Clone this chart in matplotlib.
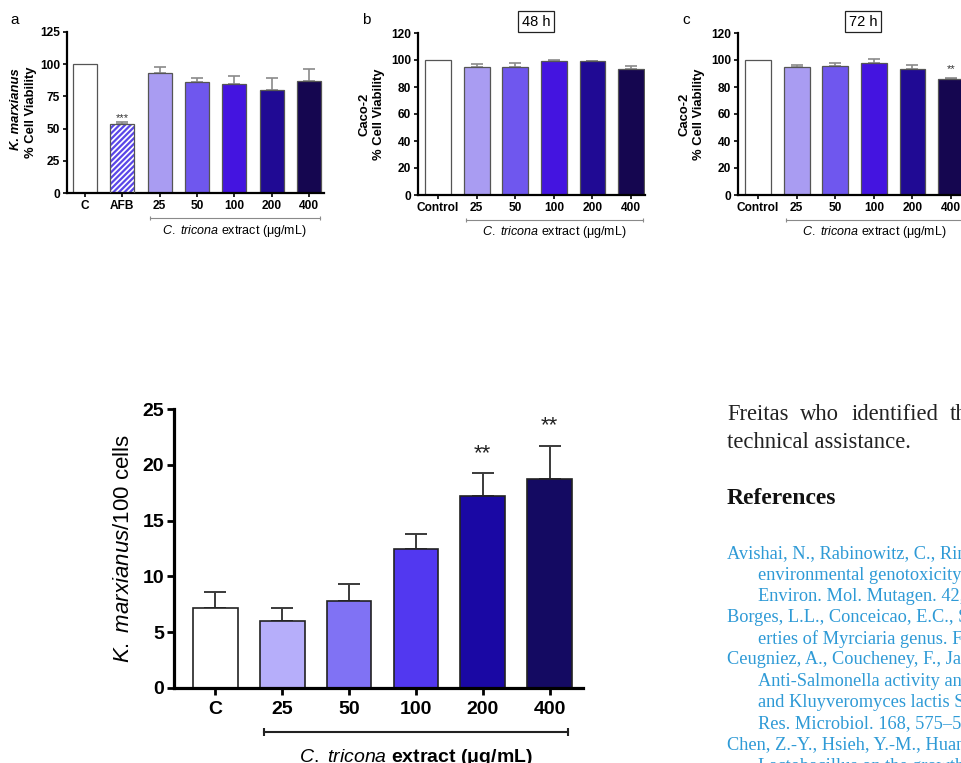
"""Figure composite : viabilite K. marxianus / Caco-2 + adhesion, avec la page autour."""
import matplotlib
matplotlib.use("Agg")
import matplotlib.pyplot as plt
import numpy as np

plt.rcParams["font.family"] = ["Liberation Sans", "DejaVu Sans"]
plt.rcParams["mathtext.fontset"] = "custom"
plt.rcParams["mathtext.rm"] = "Liberation Sans"
plt.rcParams["mathtext.it"] = "Liberation Sans:italic"
plt.rcParams["mathtext.bf"] = "Liberation Sans:bold"
plt.rcParams["hatch.linewidth"] = 1.6

# --- donnees ---
a_labels = ["C", "AFB", "25", "50", "100", "200", "400"]
a_means = [100, 53.5, 93.5, 86.5, 85, 80, 87]
a_err = [0, 1.5, 4.5, 2.5, 6, 9, 9.5]
a_colors = ["white", "white", "#a99cf2", "#6f57ee", "#4414e0", "#200a94", "#150650"]

b_labels = ["Control", "25", "50", "100", "200", "400"]
b_means = [100, 95, 94.5, 99, 99, 93]
b_err = [0, 2, 3, 1, 0.5, 2.5]

c_labels = ["Control", "25", "50", "100", "200", "400"]
c_means = [100, 94.5, 95.5, 97.5, 93.5, 86]
c_err = [0, 2, 2, 3, 3, 0.5]
bc_colors = ["white", "#a99cf2", "#6f57ee", "#4414e0", "#200a94", "#150650"]

d_labels = ["C", "25", "50", "100", "200", "400"]
d_means = [7.2, 6.0, 7.8, 12.5, 17.2, 18.7]
d_err = [1.4, 1.2, 1.55, 1.3, 2.05, 3.0]
d_colors = ["white", "#b6aefa", "#8072f4", "#5238f0", "#1a08a4", "#140a62"]

W, H = 962, 763
fig = plt.figure(figsize=(W / 100, H / 100), dpi=100)


def px_axes(left, top, right, bottom):
    return fig.add_axes([left / W, 1 - bottom / H, (right - left) / W, (bottom - top) / H])


def bracket(ax, x0, x1, y, color, lw, ms):
    ax.plot([x0, x1], [y, y], color=color, lw=lw, marker="|", markersize=ms,
            markeredgewidth=lw, transform=ax.get_xaxis_transform(), clip_on=False)


def small_panel(ax, labels, means, err, colors, ymax, ystep, width):
    x = np.arange(len(labels))
    for xi, m, c in zip(x, means, colors):
        if labels[xi] == "AFB":
            ax.bar(xi, m, width, color="white", edgecolor="#5a46e8", hatch="//////", lw=0, zorder=2)
            ax.bar(xi, m, width, fill=False, edgecolor="#555555", lw=0.9, zorder=3)
        else:
            ax.bar(xi, m, width, color=c, edgecolor="#555555", lw=0.9, zorder=2)
    e = np.array(err)
    msk = e > 0
    ax.errorbar(x[msk], np.array(means)[msk], yerr=[np.zeros(msk.sum()), e[msk]], fmt="none",
                ecolor="#8a8a8a", elinewidth=1.2, capsize=4.5, capthick=1.2, zorder=1)
    ax.set_ylim(0, ymax)
    ax.set_yticks(np.arange(0, ymax + 1, ystep))
    ax.set_xticks(x)
    ax.set_xticklabels(labels)
    for s in ("top", "right"):
        ax.spines[s].set_visible(False)
    for s in ("left", "bottom"):
        ax.spines[s].set_linewidth(1.6)
    ax.tick_params(width=1.2, length=3, labelsize=8.6, pad=2)
    for t in ax.get_xticklabels() + ax.get_yticklabels():
        t.set_fontweight("bold")
    return x


xl_small = r"$\mathit{C.}$ $\mathit{tricona}$ extract (μg/mL)"

# --- panneau a ---
axa = px_axes(67, 32, 324, 193)
small_panel(axa, a_labels, a_means, a_err, a_colors, 125, 25, 0.64)
axa.set_xlim(-0.48, 6.4)
axa.text(1, 58.5, "***", ha="center", va="center", fontsize=8, color="#333333")
bracket(axa, 1.75, 6.3, -0.155, "#8a8a8a", 0.8, 3)
axa.text(4.0, -0.235, xl_small, transform=axa.get_xaxis_transform(), ha="center", va="center", fontsize=9)
axa.text(-0.2, 0.52, "K. marxianus", transform=axa.transAxes, rotation=90, ha="center", va="center",
         fontsize=9.4, fontweight="bold", fontstyle="italic")
axa.text(-0.142, 0.5, "% Cell Viability", transform=axa.transAxes, rotation=90, ha="center", va="center",
         fontsize=9.4, fontweight="bold")
fig.text(10 / W, 1 - 20 / H, "a", fontsize=11, ha="left", va="center")

# --- panneaux b et c ---
for left, means, err, labels, letter, box in [(418, b_means, b_err, b_labels, "b", "48 h"),
                                              (738, c_means, c_err, c_labels, "c", "72 h")]:
    ax = px_axes(left, 33, left + 227, 195)
    small_panel(ax, labels, means, err, bc_colors, 120, 20, 0.67)
    ax.set_xlim(-0.52, 5.36)
    bracket(ax, 0.72, 5.3, -0.155, "#8a8a8a", 0.8, 3)
    ax.text(3.0, -0.228, xl_small, transform=ax.get_xaxis_transform(), ha="center", va="center", fontsize=9)
    ax.text(-0.235, 0.5, "Caco-2", transform=ax.transAxes, rotation=90, ha="center", va="center",
            fontsize=9.4, fontweight="bold")
    ax.text(-0.17, 0.5, "% Cell Viability", transform=ax.transAxes, rotation=90, ha="center", va="center",
            fontsize=9.4, fontweight="bold")
    fig.text((left - 56) / W, 1 - 20 / H, letter, fontsize=11, ha="left", va="center")
    ax.text(0.52 if letter == "b" else 0.55, 1.07, box, transform=ax.transAxes, ha="center", va="center",
            fontsize=10.5, bbox=dict(boxstyle="square,pad=0.25", fc="white", ec="#222222", lw=0.9))
    if letter == "c":
        ax.text(5, 93.5, "**", ha="center", va="center", fontsize=8, color="#333333")

# --- graphique principal ---
axd = px_axes(174, 409, 583, 688)
xd = np.arange(len(d_labels))
axd.bar(xd, d_means, 0.67, color=d_colors, edgecolor="#222222", lw=1.2, zorder=2)
axd.errorbar(xd, d_means, yerr=[np.zeros(len(d_err)), d_err], fmt="none", ecolor="#3a3a3a",
             elinewidth=1.4, capsize=8, capthick=1.4, zorder=1)
axd.set_xlim(-0.62, 5.5)
axd.set_ylim(0, 25)
axd.set_yticks(np.arange(0, 26, 5))
axd.set_xticks(xd)
axd.set_xticklabels(d_labels)
for s in ("top", "right"):
    axd.spines[s].set_visible(False)
for s in ("left", "bottom"):
    axd.spines[s].set_linewidth(2.3)
axd.tick_params(width=2, length=5, labelsize=14, pad=2)
axd.tick_params(axis="x", pad=4)
for t in axd.get_xticklabels() + axd.get_yticklabels():
    t.set_fontweight("bold")
axd.text(4, 21.0, "**", ha="center", va="center", fontsize=16, color="#222222")
axd.text(5, 23.5, "**", ha="center", va="center", fontsize=16, color="#222222")
bracket(axd, 0.72, 5.28, -0.158, "#222222", 1.5, 6)
axd.text(3.0, -0.25, r"$\mathit{C.\ tricona}$ extract (μg/mL)", transform=axd.get_xaxis_transform(),
         ha="center", va="center", fontsize=14, fontweight="bold")
axd.set_ylabel(r"$\mathit{K.\ marxianus}$/100 cells", fontsize=16, labelpad=6)

# --- texte de la page a droite ---
serif = ["Liberation Serif", "DejaVu Serif"]
for word, xw in [("Freitas", 727), ("who", 800), ("identified", 852), ("th", 950)]:
    fig.text(xw / W, 1 - 415 / H, word, family=serif, fontsize=16.3, va="center", color="#222222")
fig.text(727 / W, 1 - 443 / H, "technical assistance.", family=serif, fontsize=16.3, va="center",
         color="#222222")
fig.text(727 / W, 1 - 498 / H, "References", family=serif, fontsize=17, fontweight="bold", va="center",
         color="#111111")

ref_lines = [
    (False, "Avishai, N., Rabinowitz, C., Rinkevich, B., 2003. Use of the comet assay for studying"),
    (True, "environmental genotoxicity: comparisons between visual and image analyses."),
    (True, "Environ. Mol. Mutagen. 42, 155–165."),
    (False, "Borges, L.L., Conceicao, E.C., Silveira, D., 2014. Active compounds and medicinal prop-"),
    (True, "erties of Myrciaria genus. Food Chem. 153, 224–233."),
    (False, "Ceugniez, A., Coucheney, F., Jacques, P., Daube, G., Delcenserie, V., Drider, D., 2017."),
    (True, "Anti-Salmonella activity and probiotic trends of Kluyveromyces marxianus S-2-05"),
    (True, "and Kluyveromyces lactis S-3-05 isolated from a French cheese, Tomme d'Orchies."),
    (True, "Res. Microbiol. 168, 575–582."),
    (False, "Chen, Z.-Y., Hsieh, Y.-M., Huang, C.-C., Tsai, C.-C., 2017. Inhibitory effects of probiotic"),
    (True, "Lactobacillus on the growth of human colonic carcinoma cell line HT-29."),
]
for i, (indent, line) in enumerate(ref_lines):
    fig.text((758 if indent else 727) / W, 1 - (554 + i * 21.2) / H, line, family=serif, fontsize=13.2,
             va="center", color="#2e9ad6")

fig.savefig("out.png", dpi=100)
